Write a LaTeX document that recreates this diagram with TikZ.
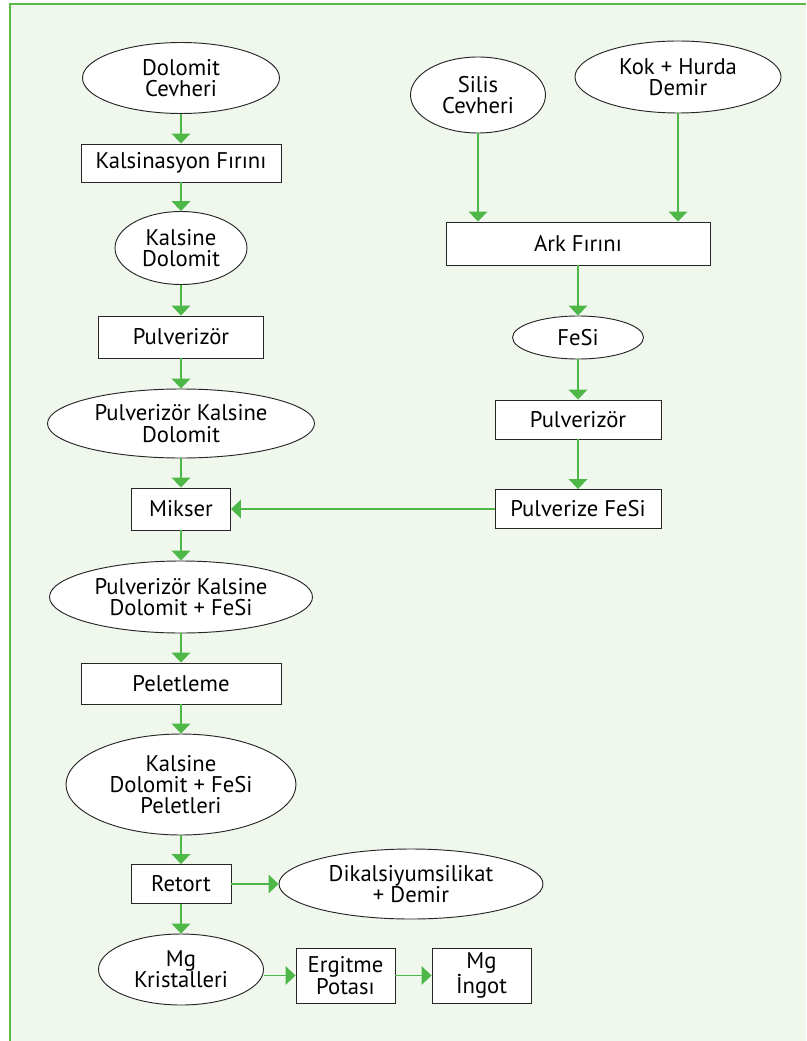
\documentclass[tikz,border=0pt]{standalone}
\usepackage{fontspec}
\setmainfont{PT Sans}
\usetikzlibrary{arrows.meta,shapes.geometric}

\definecolor{flowgreen}{RGB}{77,184,72}
\definecolor{panelbg}{RGB}{240,247,237}
\definecolor{framegreen}{RGB}{90,185,71}

\tikzset{
  stepbox/.style 2 args={draw=black!85, fill=white, line width=0.7pt, rectangle,
    inner sep=0pt, align=center, minimum width=#1*0.75pt, minimum height=#2*0.75pt},
  matter/.style 2 args={draw=black!85, fill=white, line width=0.7pt, ellipse,
    inner sep=0pt, align=center, minimum width=#1*0.75pt, minimum height=#2*0.75pt},
  flow/.style={flowgreen, line width=1.2pt, -{Triangle[width=14pt,length=7.5pt]}},
}

\begin{document}
\begin{tikzpicture}[x=0.75pt,y=-0.75pt,font=\fontsize{17}{16}\selectfont]
  \useasboundingbox (0,0) rectangle (806,1041);
  \fill[panelbg] (10,4) rectangle (806,1041);
  \draw[framegreen,line width=2pt] (10,1041) -- (10,4) -- (806,4);

  % dolomit line
  \node[matter={197}{71}] (dolomit) at (181,78) {Dolomit\\Cevheri};
  \node[stepbox={200}{38}] (kalsfirin) at (181,163) {Kalsinasyon Fırını};
  \node[matter={132}{73}] (kalsdol) at (181,248) {Kalsine\\Dolomit};
  \node[stepbox={165}{42}] (pulvdol) at (181,337) {Pulverizör};
  \node[matter={267}{69}] (pulvkd) at (181,423.5) {Pulverizör Kalsine\\Dolomit};
  \node[stepbox={99}{42}] (mikser) at (181,509) {Mikser};
  \node[matter={263}{72}] (karisim) at (181,597) {Pulverizör Kalsine\\Dolomit + FeSi};
  \node[stepbox={200}{41}] (pelet) at (181,683.5) {Peletleme};
  \node[matter={230}{101}] (peletler) at (181,784.5) {Kalsine\\Dolomit + FeSi\\Peletleri};
  \node[stepbox={100}{39}] (retort) at (181,884) {Retort};
  \node[matter={264}{70}] (curuf) at (411,884) {Dikalsiyumsilikat\\+ Demir};
  \node[matter={165}{71}] (mgkris) at (181,969.5) {Mg\\Kristalleri};
  \node[stepbox={99}{55}] (ergitme) at (345.5,975.5) {Ergitme\\Potası};
  \node[stepbox={99}{55}] (ingot) at (481.5,975.5) {Mg\\İngot};

  % fesi line
  \node[matter={135}{76}] (silis) at (478,95) {Silis\\Cevheri};
  \node[matter={206}{72}] (kok) at (678,77) {Kok + Hurda\\Demir};
  \node[stepbox={264}{43}] (ark) at (578,243.5) {Ark Fırını};
  \node[matter={131}{43}] (fesi) at (578,337.5) {FeSi};
  \node[stepbox={166}{39}] (pulvfesi) at (578,419.5) {Pulverizör};
  \node[stepbox={166}{39}] (tozfesi) at (578,509) {Pulverize FeSi};

  \foreach \a/\b in {dolomit/kalsfirin,kalsfirin/kalsdol,kalsdol/pulvdol,pulvdol/pulvkd,
    pulvkd/mikser,mikser/karisim,karisim/pelet,pelet/peletler,peletler/retort,
    retort/mgkris,retort/curuf,ergitme/ingot,ark/fesi,fesi/pulvfesi,pulvfesi/tozfesi,
    tozfesi/mikser}
    \draw[flow] (\a) -- (\b);
  \draw[flow] (silis) -- (silis |- ark.north);
  \draw[flow] (kok) -- (kok |- ark.north);
  \draw[flow] (ergitme.west -| mgkris.east) -- (ergitme.west);
\end{tikzpicture}
\end{document}
